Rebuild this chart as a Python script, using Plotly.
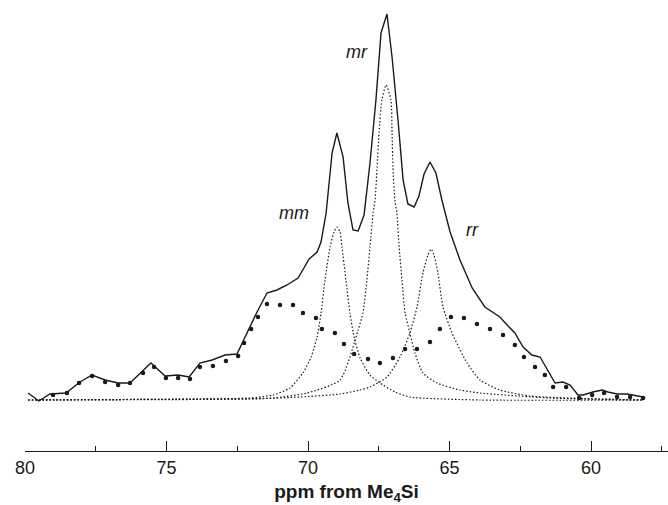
import plotly.graph_objects as go

# Observed total spectrum (ppm, intensity in arbitrary units)
total_ppm = [79.89, 79.51, 79.12, 78.55, 78.06, 77.63, 77.17, 76.71, 76.29, 75.87, 75.55, 75.05,
             74.59, 74.20, 73.82, 73.39, 72.93, 72.51, 72.12, 71.80, 71.45, 71.10, 70.74, 70.35,
             69.96, 69.68, 69.54, 69.36, 69.15, 68.98, 68.76, 68.59, 68.41, 68.23, 68.02, 67.81,
             67.60, 67.42, 67.21, 67.03, 66.82, 66.64, 66.47, 66.25, 66.08, 65.90, 65.69, 65.48,
             65.27, 64.98, 64.63, 64.20, 63.75, 63.46, 63.22, 62.93, 62.69, 62.40, 62.09, 61.80,
             61.59, 61.27, 60.99, 60.74, 60.46, 60.28, 59.93, 59.61, 59.40, 59.08, 58.73, 58.16]
total_int = [7, -1, 6, 7, 18, 25, 20, 17, 17, 28, 37, 24,
             25, 23, 37, 40, 45, 46, 70, 88, 107, 110, 115, 122,
             141, 148, 158, 187, 247, 267, 243, 197, 170, 169, 185, 237,
             300, 367, 386, 343, 280, 220, 196, 193, 204, 226, 238, 227,
             200, 168, 140, 112, 93, 88, 83, 74, 67, 53, 45, 43,
             33, 17, 18, 15, 5, 5, 8, 10, 8, 6, 6, 3]

# Broad (amorphous) component
broad_ppm = [79.01, 78.52, 78.09, 77.63, 77.17, 76.71, 76.29, 75.83, 75.44, 75.02, 74.59, 74.17,
             73.82, 73.36, 72.90, 72.47, 72.26, 72.01, 71.77, 71.45, 70.99, 70.53, 70.18, 69.72,
             69.51, 69.05, 68.73, 68.37, 67.88, 67.46, 67.00, 66.57, 66.15, 65.69, 65.34, 64.95,
             64.49, 64.03, 63.57, 63.11, 62.69, 62.37, 61.98, 61.63, 61.34, 60.88, 60.42, 59.96,
             59.54, 59.08, 58.62, 58.16]
broad_int = [5, 7, 17, 24, 18, 15, 17, 27, 33, 22, 22, 21,
             33, 34, 39, 44, 57, 71, 83, 96, 95, 95, 87, 82,
             71, 67, 56, 46, 41, 37, 42, 51, 51, 58, 71, 83,
             82, 76, 71, 65, 55, 43, 33, 25, 13, 13, 2, 5,
             7, 3, 3, 2]

# mm component
mm_ppm = [79.89, 73.82, 72.05, 71.24, 70.64, 70.18, 69.89, 69.68, 69.54, 69.40, 69.22, 69.08,
          68.98, 68.87, 68.80, 68.66, 68.52, 68.37, 68.16, 67.81, 67.46, 66.93, 66.40, 63.92, 58.16]
mm_int = [0, 1, 2, 5, 12, 27, 43, 63, 87, 120, 153, 168,
          173, 168, 153, 120, 87, 63, 42, 25, 17, 8, 3, 0, 0]

# mr component
mr_ppm = [79.89, 73.82, 71.24, 70.04, 68.87, 68.23, 68.06, 67.92, 67.81, 67.70, 67.63, 67.56,
          67.49, 67.39, 67.24, 67.07, 67.03, 67.00, 66.93, 66.86, 66.78, 66.68, 66.57, 66.40,
          66.22, 65.94, 65.44, 64.63, 63.92, 61.45, 58.16]
mr_int = [0, 1, 2, 7, 20, 70, 87, 120, 153, 187, 200, 233,
          267, 300, 315, 300, 267, 233, 200, 187, 153, 120, 87, 67,
          47, 27, 17, 10, 7, 2, 0]

# rr component
rr_ppm = [79.89, 72.05, 70.28, 68.87, 68.16, 67.81, 67.21, 66.75, 66.40, 66.15, 65.94, 65.76,
          65.65, 65.55, 65.41, 65.23, 64.91, 64.38, 63.92, 63.22, 62.16, 58.16]
rr_int = [0, 1, 3, 6, 10, 13, 23, 43, 67, 93, 127, 145,
          151, 145, 127, 93, 67, 37, 20, 10, 4, 0]

tick_vals = [80, 75, 70, 65, 60]
tick_text = ["80", "75", "70", "65", "60"]

INK = "#1a1a1a"
fig = go.Figure()

thin_dot = dict(color=INK, width=1.2, dash="1.5px,2px")
for xs, ys in [(mm_ppm, mm_int), (mr_ppm, mr_int), (rr_ppm, rr_int)]:
    fig.add_trace(go.Scatter(x=xs, y=ys, mode="lines", line=dict(thin_dot, shape="spline", smoothing=0.6),
                             showlegend=False, hoverinfo="skip"))

fig.add_trace(go.Scatter(x=broad_ppm, y=broad_int, mode="markers",
                         marker=dict(color=INK, size=4.5, symbol="circle", line=dict(width=0)),
                         showlegend=False, hoverinfo="skip"))

fig.add_trace(go.Scatter(x=total_ppm, y=total_int, mode="lines",
                         line=dict(color=INK, width=1.4),
                         showlegend=False, hoverinfo="skip"))

labels = [("mm", 70.49, 187), ("mr", 68.27, 348), ("rr", 64.20, 170)]
for txt, lx, ly in labels:
    fig.add_annotation(x=lx, y=ly, text=f"<i>{txt}</i>", showarrow=False,
                       font=dict(family="Liberation Sans, Arial, sans-serif", size=18, color=INK))

fig.update_layout(
    width=668, height=505,
    margin=dict(l=25, r=0, t=0, b=54),
    paper_bgcolor="white", plot_bgcolor="white",
    font=dict(family="Liberation Sans, Arial, sans-serif", color=INK),
    xaxis=dict(
        range=[80, 57.28], showgrid=False, zeroline=False,
        showline=True, linecolor=INK, linewidth=1.3,
        ticks="inside", ticklen=10, tickwidth=1.3, tickcolor=INK,
        tickvals=tick_vals, ticktext=tick_text,
        tickfont=dict(size=18, color=INK),
        minor=dict(dtick=2.5, tick0=0, ticks="inside", ticklen=5, tickwidth=1.3, tickcolor=INK, showgrid=False),
        title=dict(text="<b>ppm from Me<sub>4</sub>Si</b>", font=dict(size=19, color=INK), standoff=7),
    ),
    yaxis=dict(range=[-51, 400], visible=False),
)

fig.write_html("out.html")
